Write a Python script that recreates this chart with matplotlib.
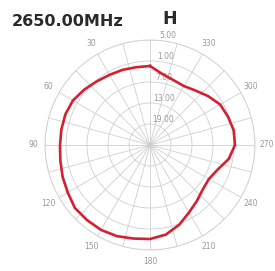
import numpy as np
import matplotlib
matplotlib.use('Agg')
import matplotlib.pyplot as plt

# gain pattern, dB, angle counted counter-clockwise from the top
angles_deg = [0, 10, 20, 30, 40, 50, 60, 70, 80, 90, 100, 110, 120, 130, 140, 150, 160, 170,
              180, 190, 200, 210, 220, 230, 240, 250, 260, 270, 280, 290, 300, 310, 320, 330, 340, 350]
gain_db = [-2.43, -2.43, -2.14, -1.86, -1.29, -0.43, 0.43, 0.71, 0.71, 0.71, 1.0, 1.57, 2.14, 3.0,
           3.0, 3.0, 2.71, 2.14, 1.86, 1.0, -0.71, -2.71, -4.14, -5.29, -5.57, -4.43, -2.14, -0.71,
           -0.71, -1.29, -1.86, -3.29, -4.71, -5.57, -5.29, -4.43]

ring_values = [5, -1, -7, -13, -19]
ring_labels = ['5.00', '1.00', '7.00', '13.00', '19.00']
angle_ticks = [30, 60, 90, 120, 150, 180, 210, 240, 270, 300, 330]

fig = plt.figure(figsize=(2.75, 2.71), dpi=100)
ax = fig.add_axes([0.1636, 0.0775, 0.7636, 0.7749], projection='polar')
ax.set_theta_zero_location('N')
ax.set_theta_direction(1)
ax.set_ylim(-25, 5)

th = np.deg2rad(angles_deg + [angles_deg[0]])
r = gain_db + [gain_db[0]]
ax.plot(th, r, color='#d42030', lw=1.9, zorder=5)

ax.set_xticks(np.deg2rad(np.arange(0, 360, 15)))
ax.set_xticklabels([str(a) if a in angle_ticks else '' for a in range(0, 360, 15)],
                   fontsize=5.5, color='#999999')
ax.tick_params(axis='x', pad=-2)
ax.set_yticks(ring_values)
ax.set_yticklabels(ring_labels, fontsize=5.5, color='#999999')
ax.set_rlabel_position(-5)
ax.grid(True, color='#cfcfcf', lw=0.6)
ax.spines['polar'].set_color('#cfcfcf')
ax.spines['polar'].set_linewidth(0.6)

fig.text(0.044, 0.919, '2650.00MHz', fontsize=11.5, fontweight='bold', color='#2a2a2a', va='center')
fig.text(0.589, 0.93, 'H', fontsize=12.5, fontweight='bold', color='#2a2a2a', va='center')

fig.savefig('out.png', dpi=100)
